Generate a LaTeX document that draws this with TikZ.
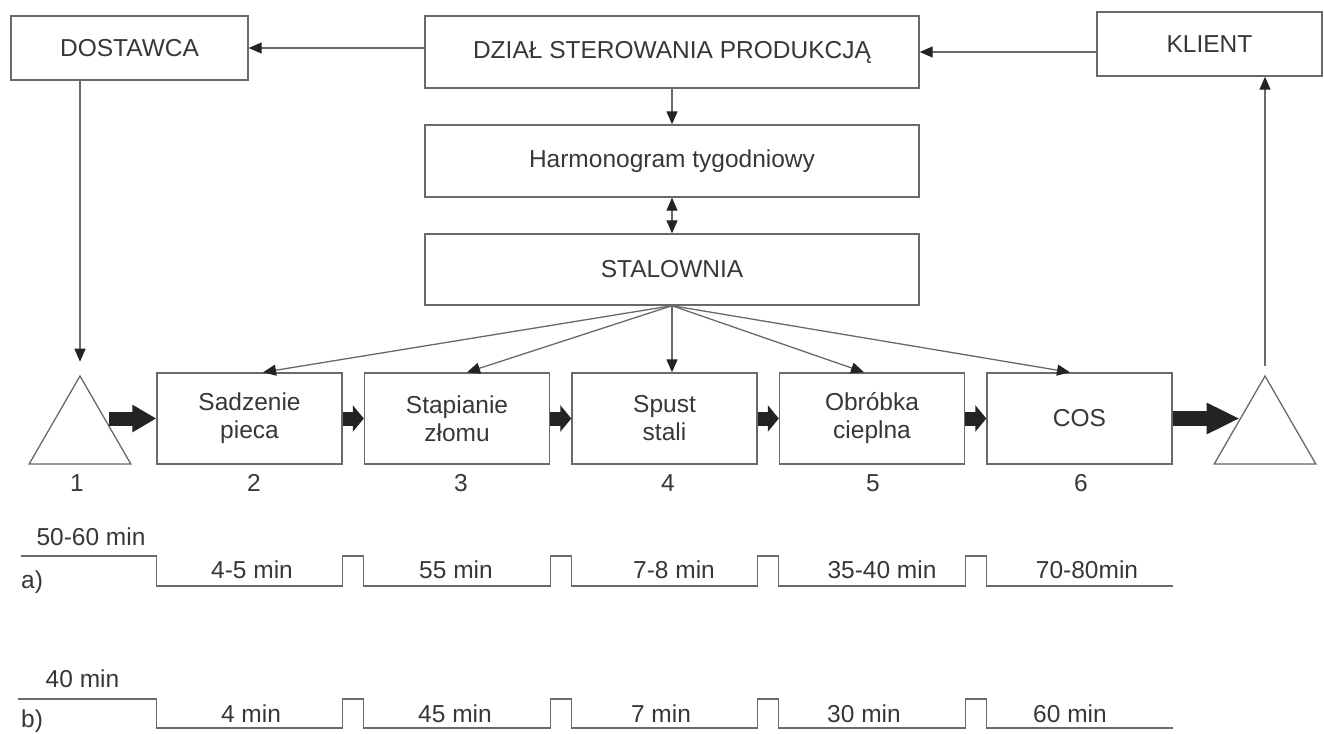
\documentclass[tikz,border=0pt]{standalone}
\usepackage{fontspec}
\setmainfont{Liberation Sans}
\usetikzlibrary{arrows.meta,shapes.geometric,calc}

\definecolor{linegray}{RGB}{105,105,105}
\definecolor{textgray}{RGB}{55,55,55}
\definecolor{fatgray}{RGB}{35,35,35}

\begin{document}
\begin{tikzpicture}[
    x=1pt, y=-1pt,
    font=\fontsize{24.5}{28}\selectfont,
    box/.style={rectangle, draw=linegray, line width=1.4pt, inner sep=0pt, align=center, text=textgray},
    procbox/.style={box, minimum width=185pt, minimum height=91pt},
    tri/.style={regular polygon, regular polygon sides=3, draw=linegray, line width=1.3pt, inner sep=0pt, minimum size=117.4pt},
    arrow/.style={-{Triangle[length=13pt,width=11pt,color=fatgray]}, draw=linegray, line width=1.3pt},
    darrow/.style={arrow, {Triangle[length=13pt,width=11pt,color=fatgray]}-{Triangle[length=13pt,width=11pt,color=fatgray]}},
    fat/.style={-{Triangle[length=11pt,width=26pt]}, draw=fatgray, line width=14pt},
    tline/.style={draw=linegray, line width=1.3pt},
    lbl/.style={text=textgray, inner sep=0pt}
]
\useasboundingbox (0,0) rectangle (1324,733);

% Top row
\node[box, minimum width=237pt, minimum height=64pt] (dost) at (129.5,48) {DOSTAWCA};
\node[box, minimum width=494pt, minimum height=72pt] (dzial) at (672,52) {DZIAŁ STEROWANIA PRODUKCJĄ};
\node[box, minimum width=225pt, minimum height=64pt] (klient) at (1209.5,44) {KLIENT};

% Planning column
\node[box, minimum width=494pt, minimum height=72pt] (harm) at (672,161) {Harmonogram tygodniowy};
\node[box, minimum width=494pt, minimum height=71pt] (stal) at (672,269.5) {STALOWNIA};

% Process row
\node[tri] (tri1) at (80,434.7) {};
\node[procbox] (p2) at (249.5,418.5) {Sadzenie\\pieca};
\node[procbox] (p3) at (457,418.5) {Stapianie\\złomu};
\node[procbox] (p4) at (664.5,418.5) {Spust\\stali};
\node[procbox] (p5) at (872,418.5) {Obróbka\\cieplna};
\node[procbox] (p6) at (1079.5,418.5) {COS};
\node[tri] (tri2) at (1265,434.7) {};

% Numbers
\node[lbl] (n1) at (77,483) {1};
\node[lbl] (n2) at (254,483) {2};
\node[lbl] (n3) at (461,483) {3};
\node[lbl] (n4) at (668,483) {4};
\node[lbl] (n5) at (873,483) {5};
\node[lbl] (n6) at (1081,483) {6};

% Information flow
\draw[arrow] (dzial.west |- dost.east) -- (dost.east);
\draw[arrow] (klient.west |- dzial.east) -- (dzial.east);
\draw[arrow] (dzial.south) -- (harm.north);
\draw[darrow] (harm.south) -- (stal.north);
\draw[arrow] (tri1.corner 1 |- dost.south) -- ([yshift=13pt]tri1.corner 1);
\draw[arrow] ([yshift=9pt]tri2.corner 1) -- (tri2.corner 1 |- klient.south);

\draw[arrow] (stal.south) -- ([xshift=13.5pt]p2.north);
\draw[arrow] (stal.south) -- ([xshift=10pt]p3.north);
\draw[arrow] (stal.south) -- (stal.south |- p4.north);
\draw[arrow] (stal.south) -- ([xshift=-8pt]p5.north);
\draw[arrow] (stal.south) -- ([xshift=-9.5pt]p6.north);

% Material flow
\draw[fat, -{Triangle[length=24pt,width=26pt]}] ([xshift=-47pt]p2.west) -- (p2.west);
\draw[fat] (p2.east) -- (p3.west);
\draw[fat] (p3.east) -- (p4.west);
\draw[fat] (p4.east) -- (p5.west);
\draw[fat] (p5.east) -- (p6.west);
\draw[fat, line width=15pt, -{Triangle[length=33pt,width=29pt]}] (p6.east) -- ([xshift=67pt]p6.east);

% Time lines
\coordinate (ahi) at (0,556);
\coordinate (alo) at (0,586);
\coordinate (bhi) at (0,699);
\coordinate (blo) at (0,728);

\draw[tline] (21,556) -| (p2.west |- alo) -| (p2.east |- ahi) -| (p3.west |- alo) -| (p3.east |- ahi)
    -| (p4.west |- alo) -| (p4.east |- ahi) -| (p5.west |- alo) -| (p5.east |- ahi) -| (p6.west |- alo) -- (p6.east |- alo);
\draw[tline] (18,699) -| (p2.west |- blo) -| (p2.east |- bhi) -| (p3.west |- blo) -| (p3.east |- bhi)
    -| (p4.west |- blo) -| (p4.east |- bhi) -| (p5.west |- blo) -| (p5.east |- bhi) -| (p6.west |- blo) -- (p6.east |- blo);

\node[lbl] (ta0) at (91,537) {50-60 min};
\node[lbl] (ta2) at (252,570) {4-5 min};
\node[lbl] (ta3) at (456,570) {55 min};
\node[lbl] (ta4) at (674,570) {7-8 min};
\node[lbl] (ta5) at (882,570) {35-40 min};
\node[lbl] (ta6) at (1087,570) {70-80min};
\node[lbl, anchor=base west] (tal) at (21,588) {a)};

\node[lbl] (tb0) at (82.5,679) {40 min};
\node[lbl] (tb2) at (251,714) {4 min};
\node[lbl] (tb3) at (455,714) {45 min};
\node[lbl] (tb4) at (661,714) {7 min};
\node[lbl] (tb5) at (864,714) {30 min};
\node[lbl] (tb6) at (1070,714) {60 min};
\node[lbl, anchor=base west] (tbl) at (21,727) {b)};

\end{tikzpicture}
\end{document}
